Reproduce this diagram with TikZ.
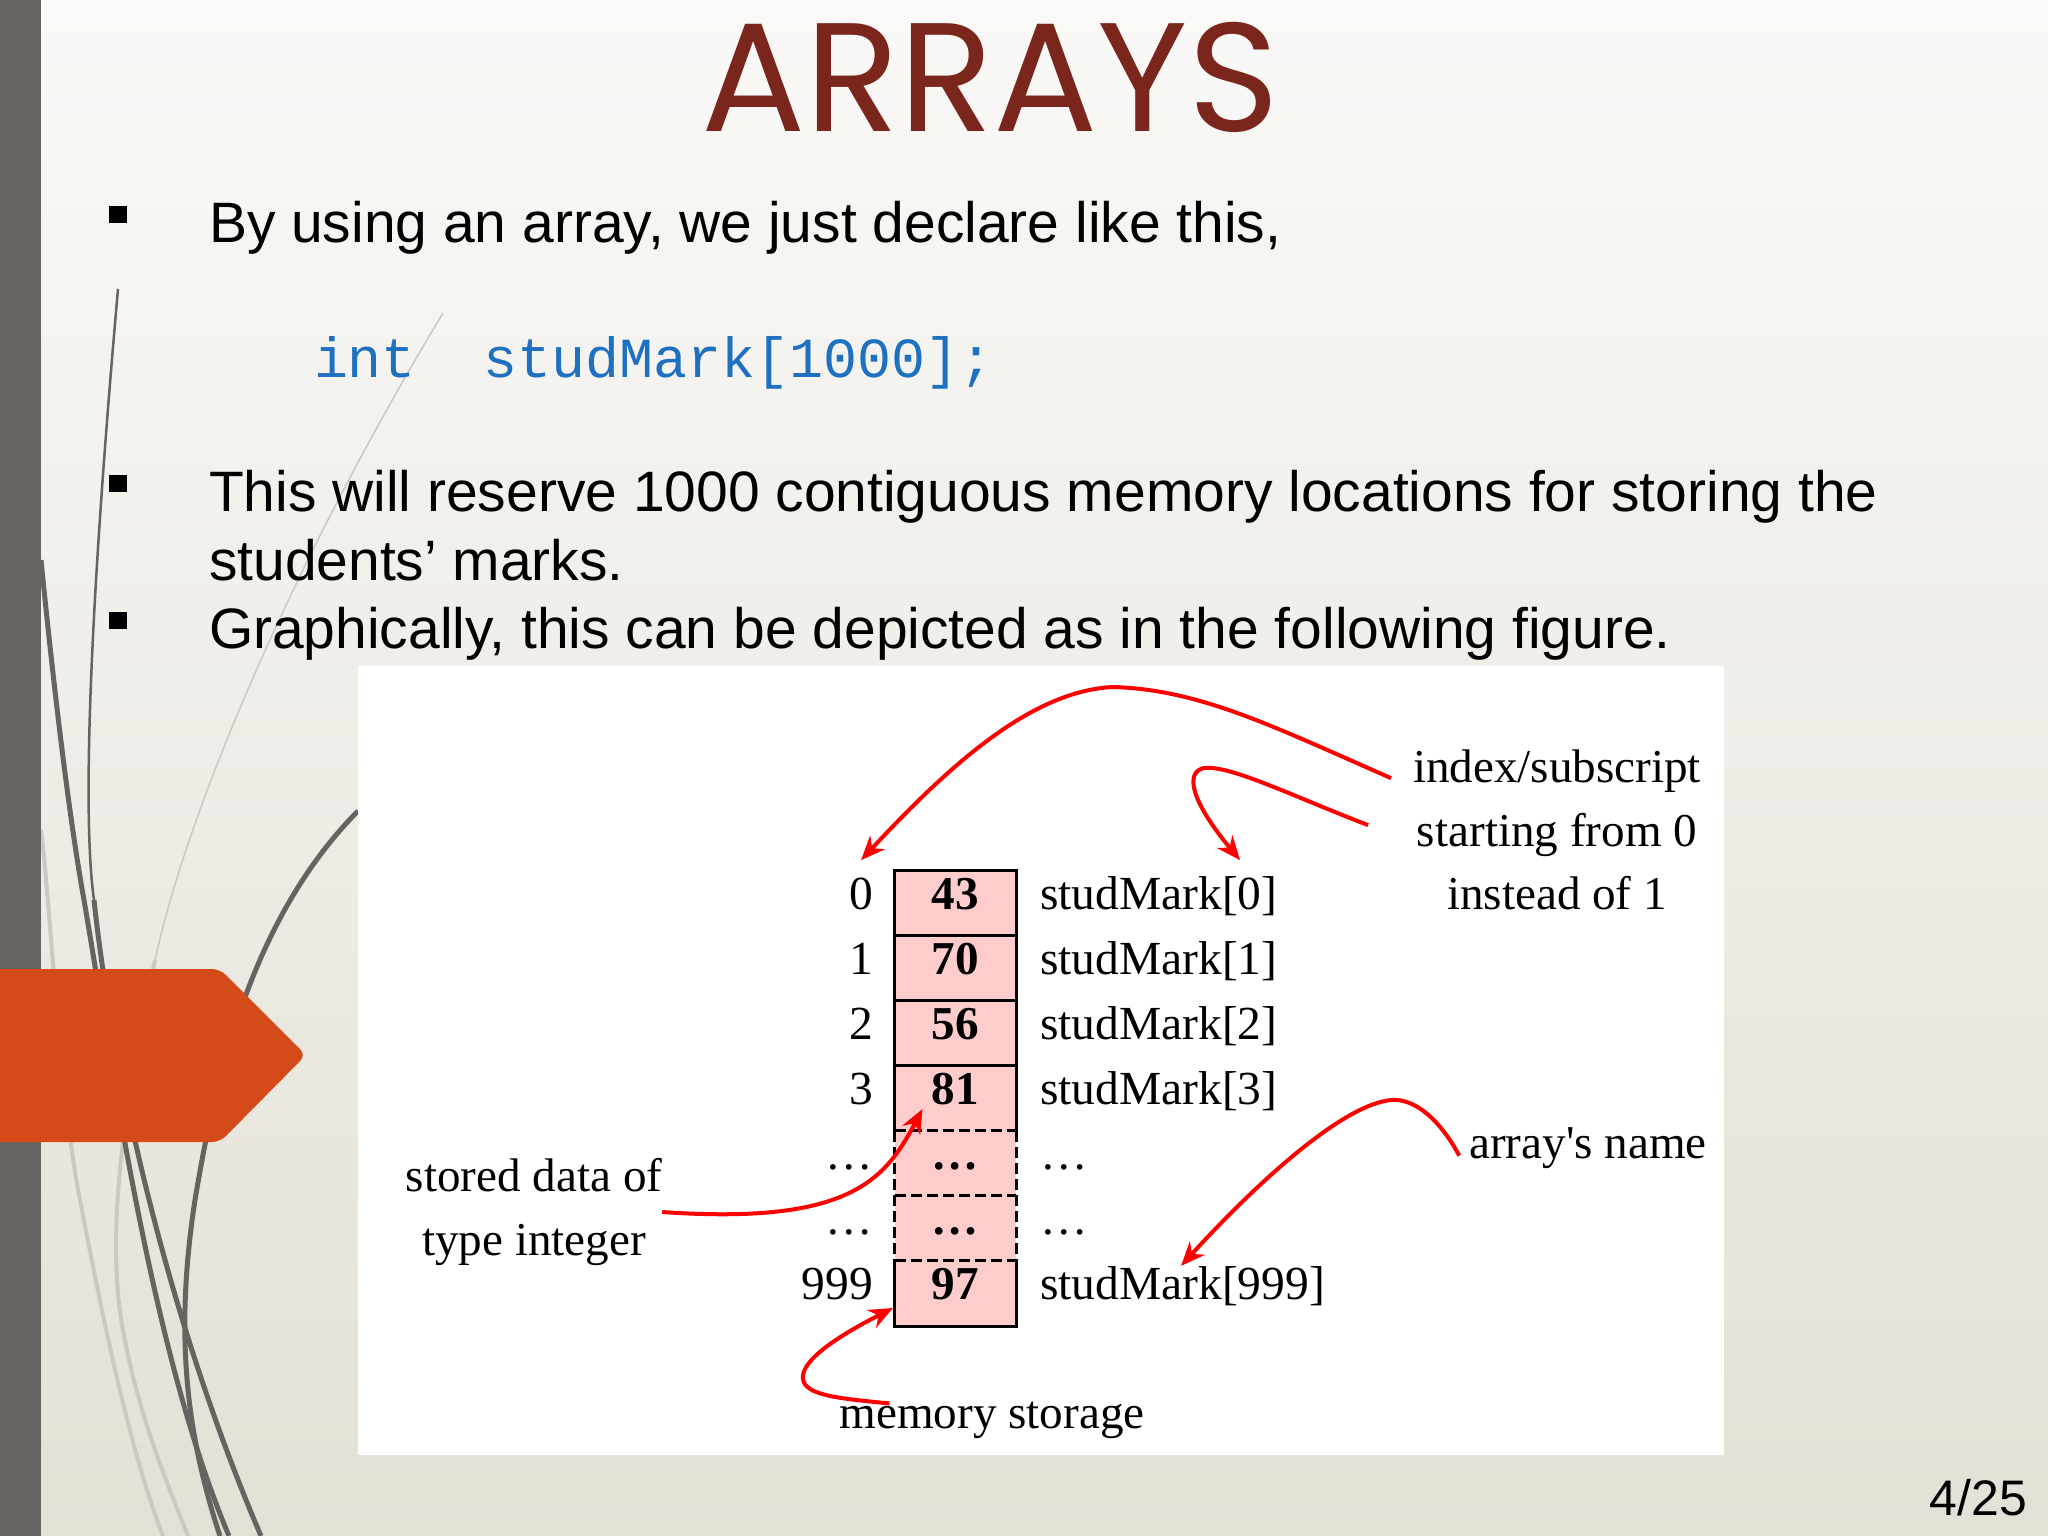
\documentclass[tikz,border=0pt]{standalone}
\usepackage{fontspec}
\setmainfont{Liberation Sans}
\newfontfamily\figfont{Liberation Serif}
\newfontfamily\codefont{Liberation Mono}
\newfontfamily\titlefont{Poppins}
\usetikzlibrary{positioning}
\usetikzlibrary{arrows.meta}
\definecolor{slidetop}{RGB}{250,249,247}
\definecolor{slidebot}{RGB}{228,224,214}
\definecolor{bargray}{RGB}{103,99,96}
\definecolor{lightcurve}{RGB}{204,200,194}
\definecolor{tagorange}{RGB}{212,74,24}
\definecolor{titlered}{RGB}{122,38,28}
\definecolor{codeblue}{RGB}{30,112,192}
\definecolor{cellpink}{RGB}{255,204,204}
\definecolor{markred}{RGB}{255,0,0}
\tikzset{
    x=0.01cm, y=-0.01cm, % one unit is one pixel of the slide, y grows downwards
    node distance=0.22cm,
    every node/.style={inner sep=0pt, outer sep=0pt},
    slidetext/.style={font=\fontsize{16.2}{19.3}\selectfont, anchor=base west},
    bulletsq/.style={fill=black, minimum size=0.17cm},
    cell/.style={ % one slot of the array
        fill=cellpink,
        minimum width=1.21cm, minimum height=0.651cm,
        font=\figfont\bfseries\fontsize{13.4}{16}\selectfont,
        text height=0.32cm, text depth=0.19cm
    },
    rowtext/.style={font=\figfont\fontsize{13.5}{16}\selectfont, text height=0.32cm, text depth=0.19cm},
    note/.style={font=\figfont\fontsize{13.4}{18}\selectfont, align=center},
    cellline/.style={line width=0.03cm},
    redarrow/.style={ % hand drawn pointers
        draw=markred, line width=0.04cm,
        -{Stealth[length=0.24cm, width=0.2cm]}
    },
    curve/.style={draw=bargray, line width=0.05cm},
    faint/.style={draw=lightcurve, line width=0.04cm}
}
\begin{document}
\begin{tikzpicture}
    % slide background
    \shade[top color=slidetop, bottom color=slidebot] (0,0) rectangle (2048,1536);
    \useasboundingbox (0,0) rectangle (2048,1536);

    % decorative curves
    \draw[faint, line width=0.015cm] (443,313) .. controls (300,550) and (190,800) .. (155,960);
    \draw[faint] (155,960) .. controls (120,1120) and (105,1250) .. (125,1340) .. controls (140,1420) and (170,1490) .. (188,1536);
    \draw[faint] (41,830) .. controls (50,900) and (60,1100) .. (80,1200) .. controls (105,1330) and (130,1450) .. (163,1536);
    \draw[curve, line width=0.025cm] (118,289) .. controls (95,550) and (80,800) .. (94,900);
    \draw[curve] (94,900) .. controls (110,1050) and (160,1300) .. (261,1536);
    \draw[curve] (41,560) .. controls (60,750) and (75,850) .. (84,900) .. controls (110,1050) and (150,1350) .. (229,1536);
    \draw[curve] (358,811) .. controls (250,920) and (215,1080) .. (195,1200) .. controls (175,1330) and (185,1430) .. (220,1536);

    \fill[bargray] (0,0) rectangle (41,1536);
    \fill[tagorange, rounded corners=0.08cm] (-20,969) -- (220,969) -- (306,1055) -- (220,1142) -- (-20,1142) -- cycle;
    \fill[white] (358,666) rectangle (1724,1455);

    % slide text
    \node[font=\titlefont\fontsize{44}{50}\selectfont, text=titlered, anchor=base] (title) at (990,131) {ARRAYS};
    \node[bulletsq] (q1) at (118,214) {};
    \node[slidetext] (b1) at (209,242) {By using an array, we just declare like this,};
    \node[font=\codefont\fontsize{16.1}{19}\selectfont, text=codeblue, anchor=base west] (code) at (314,377) {int\ \ studMark[1000];};
    \node[bulletsq] (q2) at (118,483) {};
    \node[slidetext] (b2) at (209,511) {This will reserve 1000 contiguous memory locations for storing the};
    \node[slidetext] (b2n) at (209,580) {students’ marks.};
    \node[bulletsq] (q3) at (118,620) {};
    \node[slidetext] (b3) at (209,648) {Graphically, this can be depicted as in the following figure.};
    \node[font=\fontsize{14.2}{17}\selectfont, anchor=base east] (page) at (2027,1515) {4/25};

    % the array
    \node[cell] (c0) at (955.5,902.6) {43};
    \foreach \v [count=\i from 1, remember=\i as \j (initially 0)] in {70,56,81,\ldots,\ldots,97}
        \node[cell, below=0pt of c\j] (c\i) {\v};
    \foreach \t [count=\i from 0] in {0,1,2,3,\ldots,\ldots,999}
        \node[rowtext, left=of c\i] (i\i) {\t};
    \foreach \t [count=\i from 0] in {studMark[0],studMark[1],studMark[2],studMark[3],\ldots,\ldots,studMark[999]}
        \node[rowtext, right=0.24cm of c\i] (s\i) {\t};

    \draw[cellline] (c3.south west) -- (c0.north west) -- (c0.north east) -- (c3.south east);
    \foreach \i in {0,1,2}
        \draw[cellline] (c\i.south west) -- (c\i.south east);
    \foreach \i in {3,4,5}
        \draw[cellline, dash pattern=on 0.11cm off 0.05cm] (c\i.south west) -- (c\i.south east);
    \draw[cellline, dash pattern=on 0.11cm off 0.05cm] (c4.north west) -- (c5.south west);
    \draw[cellline, dash pattern=on 0.11cm off 0.05cm] (c4.north east) -- (c5.south east);
    \draw[cellline] (c6.north west) -- (c6.south west) -- (c6.south east) -- (c6.north east);

    % notes
    \node[note] (ix) at (1557,830) {index/subscript\\starting from 0\\instead of 1};
    \node[note, anchor=base] (an) at (1588,1158) {array\textquotesingle s name};
    \node[note] (sd) at (534,1212) {stored data of\\type integer};
    \node[note, anchor=base] (ms) at (992,1428) {memory storage};

    \draw[redarrow] ([shift={(-22,28)}]ix.north west) .. controls (1270,725) and (1200,690) .. (1114,687)
        .. controls (1030,690) and (945,770) .. ([shift={(0,-17)}]i0.north);
    \draw[redarrow] ([shift={(-45,75)}]ix.north west) .. controls (1290,795) and (1230,765) .. (1204,768)
        .. controls (1185,772) and (1190,800) .. ([shift={(200,-17)}]s0.north west);
    \draw[redarrow] ([shift={(-10,8)}]an.west) .. controls (1440,1120) and (1415,1098) .. (1391,1100)
        .. controls (1340,1105) and (1250,1190) .. ([shift={(141,-2)}]s6.north west);
    \draw[redarrow] (sd.east) .. controls (850,1225) and (885,1180) .. ([shift={(-33,11)}]c3.center);
    \draw[redarrow] ([shift={(50,2)}]ms.north west) .. controls (835,1398) and (800,1395) .. (803,1375)
        .. controls (806,1355) and (850,1330) .. ([shift={(-2,-18)}]c6.south west);
\end{tikzpicture}
\end{document}
